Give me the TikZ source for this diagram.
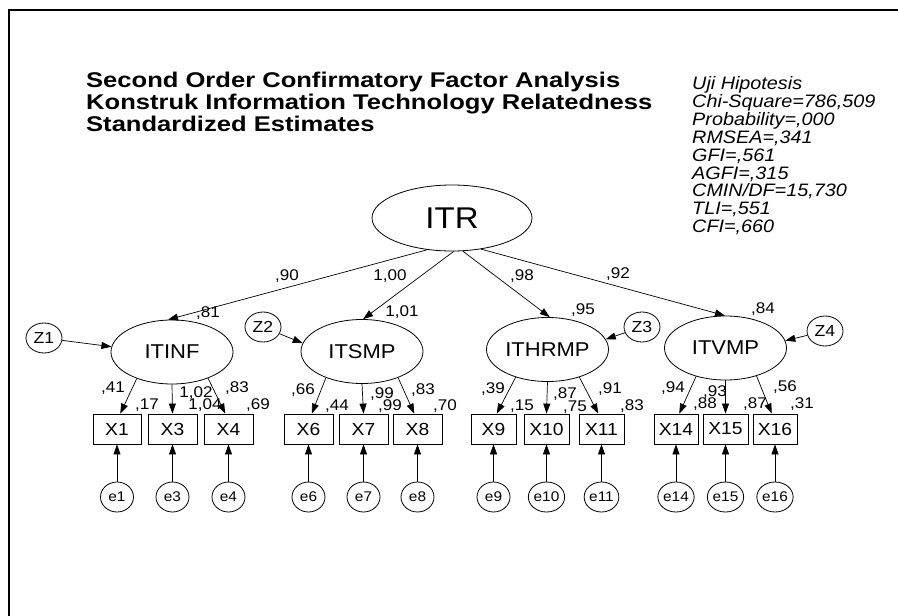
\documentclass[tikz,border=0pt]{standalone}
\usepackage{fontspec}
\setmainfont{Liberation Sans}[FakeStretch=1.1]
\newfontfamily\headfont{Liberation Sans}[FakeStretch=1.2]
\usetikzlibrary{arrows.meta,shapes.geometric}
\begin{document}
\begin{tikzpicture}[x=1pt,y=-1pt,
  lat/.style={ellipse, draw, line width=0.8pt, inner sep=0, minimum width=122, minimum height=64,
              font=\fontsize{20}{24}\selectfont},
  dist/.style={ellipse, draw, line width=0.8pt, inner sep=0, minimum width=36, minimum height=30,
              font=\fontsize{16}{19}\selectfont},
  err/.style={ellipse, draw, line width=0.8pt, inner sep=0, minimum width=33, minimum height=30,
              font=\fontsize{14}{17}\selectfont},
  obs/.style={rectangle, draw, line width=0.8pt, inner sep=0, minimum height=30,
              font=\fontsize{17.5}{21}\selectfont},
  est/.style={inner sep=0, font=\fontsize{15.5}{18}\selectfont},
  arr/.style={-{Triangle[length=10pt,width=7pt]}, line width=0.7pt},
  ttl/.style={anchor=base west, inner sep=0, font=\headfont\bfseries\fontsize{21.3}{25}\selectfont},
  fit/.style={anchor=base west, inner sep=0, font=\itshape\fontsize{18}{21}\selectfont}
]
\useasboundingbox (0,0) rectangle (898,616);
% page frame
\draw[line width=1.6pt] (9,616) -- (9,10) -- (898,10);

% headings
\node[ttl] (t1) at (86,87)  {Second Order Confirmatory Factor Analysis};
\node[ttl] (t2) at (86,109) {Konstruk Information Technology Relatedness};
\node[ttl] (t3) at (86,131) {Standardized Estimates};

% fit statistics
\node[fit] (s1) at (692,89.5)  {Uji Hipotesis};
\node[fit] (s2) at (692,107.4) {Chi-Square=786,509};
\node[fit] (s3) at (692,125.3) {Probability=,000};
\node[fit] (s4) at (692,143.2) {RMSEA=,341};
\node[fit] (s5) at (692,161.1) {GFI=,561};
\node[fit] (s6) at (692,179.0) {AGFI=,315};
\node[fit] (s7) at (692,196.9) {CMIN/DF=15,730};
\node[fit] (s8) at (692,214.8) {TLI=,551};
\node[fit] (s9) at (692,232.7) {CFI=,660};

% second-order factor
\node[lat, minimum width=160, minimum height=66, font=\fontsize{30}{36}\selectfont] (ITR) at (452,218) {ITR};

% first-order factors
\node[lat] (ITINF)  at (172,352)   {ITINF};
\node[lat] (ITSMP)  at (362,351.5) {ITSMP};
\node[lat] (ITHRMP) at (547.5,349.5) {ITHRMP};
\node[lat] (ITVMP)  at (725.5,348) {ITVMP};

% disturbances
\node[dist] (Z1) at (44,338)  {Z1};
\node[dist] (Z2) at (263,327) {Z2};
\node[dist] (Z3) at (642,327) {Z3};
\node[dist] (Z4) at (825,331) {Z4};

% indicators
\foreach \n/\x/\w in {X1/117/48, X3/172.5/49, X4/228.5/49, X6/308.5/49, X7/363.5/49, X8/417.5/49,
                      X9/493.5/45, X10/546.5/45, X11/601.5/45, X14/676/44, X15/725.5/45, X16/775/44}
  \node[obs, minimum width=\w] (\n) at (\x,429) {\n};

% measurement errors
\foreach \n/\x in {1/117, 3/172.5, 4/228.5, 6/308.5, 7/363.5, 8/417.5,
                   9/493.5, 10/546.5, 11/601.5, 14/676, 15/725.5, 16/775}
  \node[err] (e\n) at (\x,497) {e\n};

% structural paths
\draw[arr] (ITR.232) -- (ITINF.97);
\draw[arr] (ITR.273) -- (ITSMP.88);
\draw[arr] (ITR.288) -- (ITHRMP.86);
\draw[arr] (ITR.313) -- (ITVMP.91);

\draw[arr] (Z1) -- (ITINF.175);
\draw[arr] (Z2) -- (ITSMP.172);
\draw[arr] (Z3) -- (ITHRMP.10);
\draw[arr] (Z4) -- (ITVMP.7);

% loadings
\draw[arr] (ITINF.217) -- (X1.78);
\draw[arr] (ITINF.270) -- (X3.north);
\draw[arr] (ITINF.324) -- (X4.102);
\draw[arr] (ITSMP.216) -- (X6.78);
\draw[arr] (ITSMP.270) -- (X7.north);
\draw[arr] (ITSMP.324) -- (X8.102);
\draw[arr] (ITHRMP.221) -- (X9.78);
\draw[arr] (ITHRMP.270) -- (X10.north);
\draw[arr] (ITHRMP.319) -- (X11.102);
\draw[arr] (ITVMP.224) -- (X14.78);
\draw[arr] (ITVMP.270) -- (X15.north);
\draw[arr] (ITVMP.318) -- (X16.102);

% error paths
\foreach \n in {1,3,4,6,7,8,9,10,11,14,15,16}
  \draw[arr] (e\n) -- (X\n);

% estimates
\node[est] (a1) at (287,276) {,90};
\node[est] (a2) at (390,276) {1,00};
\node[est] (a3) at (522,276) {,98};
\node[est] (a4) at (618,274) {,92};
\node[est] (r1) at (208,313) {,81};
\node[est] (r2) at (402,312) {1,01};
\node[est] (r3) at (583,310) {,95};
\node[est] (r4) at (763,309) {,84};

\node[est] (b1) at (113,388) {,41};
\node[est] (c1) at (147,405) {,17};
\node[est] (b2) at (196,393) {1,02};
\node[est] (c2) at (205,405) {1,04};
\node[est] (b3) at (237,388) {,83};
\node[est] (c3) at (258,405) {,69};

\node[est] (b4) at (303,390) {,66};
\node[est] (c4) at (337,406) {,44};
\node[est] (b5) at (382,394) {,99};
\node[est] (c5) at (390,406) {,99};
\node[est] (b6) at (423,390) {,83};
\node[est] (c6) at (445,406) {,70};

\node[est] (b7) at (493,389) {,39};
\node[est] (c7) at (522,406) {,15};
\node[est] (b8) at (565,394) {,87};
\node[est] (c8) at (575,407) {,75};
\node[est] (b9) at (610,389) {,91};
\node[est] (c9) at (632,406) {,83};

\node[est] (b10) at (673,388) {,94};
\node[est] (c10) at (705,404) {,88};
\node[est] (b11) at (715,392) {,93};
\node[est] (c11) at (755,404) {,87};
\node[est] (b12) at (785,387) {,56};
\node[est] (c12) at (802,404) {,31};
\end{tikzpicture}
\end{document}
